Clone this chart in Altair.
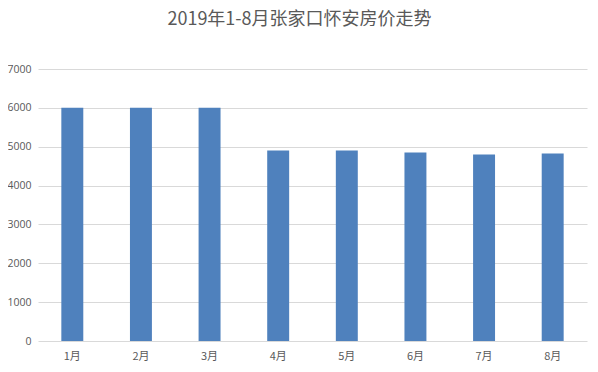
import altair as alt
import pandas as pd

months = ["1月", "2月", "3月", "4月", "5月", "6月", "7月", "8月"]
prices = [6000, 6000, 6000, 4905, 4905, 4850, 4800, 4825]
y_ticks = [0, 1000, 2000, 3000, 4000, 5000, 6000, 7000]

df = pd.DataFrame({"month": months, "price": prices})

font = "Noto Sans CJK SC"

chart = (
    alt.Chart(df)
    .mark_bar(color="#4F81BD")
    .encode(
        x=alt.X(
            "month:N",
            sort=months,
            scale=alt.Scale(paddingInner=0.68, paddingOuter=0.34),
            axis=alt.Axis(
                title=None, labelAngle=0, ticks=False, domain=False,
                labelPadding=9, labelFontSize=11, labelColor="#595959", labelFont=font,
            ),
        ),
        y=alt.Y(
            "price:Q",
            scale=alt.Scale(domain=[0, 7000], nice=False),
            axis=alt.Axis(
                title=None, values=y_ticks, format="d", ticks=False, domain=False,
                labelPadding=7, labelFontSize=10.5, labelColor="#595959", labelFont="Open Sans",
                gridColor="#D9D9D9", gridWidth=1,
            ),
        ),
    )
    .properties(
        width=549,
        height=272,
        autosize=alt.AutoSizeParams(type="none"),
        padding={"left": 30, "top": 61, "right": 3, "bottom": 23},
        title=alt.TitleParams(
            "2019年1-8月张家口怀安房价走势",
            fontSize=18, font=font, fontWeight="normal", color="#595959",
            anchor="middle", dx=-13, offset=35,
        ),
    )
    .configure_view(stroke=None)
)

chart.save("out.html", embed_options={"renderer": "svg", "actions": False})
